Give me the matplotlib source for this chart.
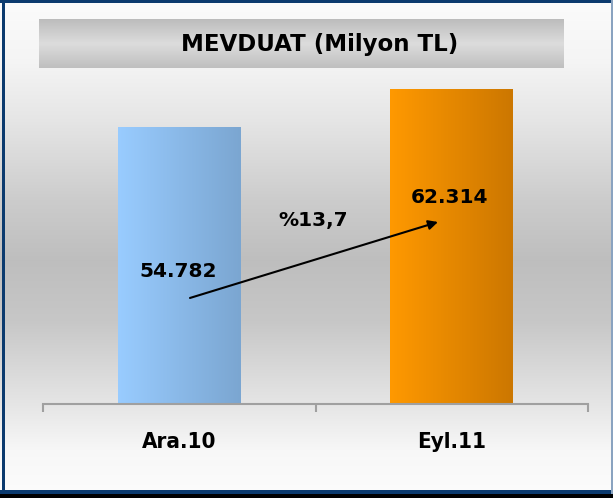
import numpy as np
import matplotlib
matplotlib.use("Agg")
import matplotlib.pyplot as plt
from matplotlib.patches import Rectangle
from matplotlib.colors import LinearSegmentedColormap

# ---- data ----
categories = ["Ara.10", "Eyl.11"]
values = [54782, 62314]
value_labels = ["54.782", "62.314"]
change_label = "%13,7"
title = "MEVDUAT (Milyon TL)"

W, H = 613, 498
fig = plt.figure(figsize=(W / 100, H / 100), dpi=100)

# ---- background axes in pixel coordinates ----
bg = fig.add_axes([0, 0, 1, 1])
bg.set_xlim(0, W)
bg.set_ylim(H, 0)
bg.axis("off")

ys = np.arange(H)
stops_y = [0, 60, 120, 200, 260, 320, 404, 450, 498]
stops_v = [0.985, 0.96, 0.90, 0.80, 0.745, 0.78, 0.90, 0.97, 0.99]
col = np.interp(ys, stops_y, stops_v)
grad = np.repeat(col[:, None], 2, axis=1)
bg.imshow(np.dstack([grad, grad, grad]), extent=[0, W, H, 0], aspect="auto",
          interpolation="bilinear", zorder=0)

# title box gradient
ty = np.linspace(0, 1, 50)
tcol = np.interp(ty, [0, 0.5, 1], [0.74, 0.865, 0.75])
tg = np.repeat(tcol[:, None], 2, axis=1)
bg.imshow(np.dstack([tg, tg, tg]), extent=[39, 564, 68, 19], aspect="auto",
          interpolation="bilinear", zorder=1)
bg.text(320, 44, title, ha="center", va="center", fontsize=16.5,
        fontweight="bold", family="DejaVu Sans", color="black", zorder=2)

# frame
bg.add_patch(Rectangle((0, 493), W, 5, facecolor="black", edgecolor="none", zorder=3))
bg.add_patch(Rectangle((0, 0), W, 3, facecolor="#0B3A6E", edgecolor="none", zorder=3))
bg.add_patch(Rectangle((0, 490), W, 4, facecolor="#0B3A6E", edgecolor="none", zorder=3))
bg.add_patch(Rectangle((2, 0), 3, 494, facecolor="#0B3A6E", edgecolor="none", zorder=3))
bg.add_patch(Rectangle((610.5, 0), 2.5, 494, facecolor="#8AA3C0", edgecolor="none", zorder=3))

# ---- main axes ----
left, right, base, top = 43, 588, 404, 60
ax = fig.add_axes([left / W, 1 - base / H, (right - left) / W, (base - top) / H])
ax.patch.set_alpha(0)
x = np.arange(len(categories))
bars = ax.bar(x, values, width=0.45, color="none", edgecolor="none", zorder=2)

cmaps = [LinearSegmentedColormap.from_list("b", ["#99CCFF", "#7BA6D1"]),
         LinearSegmentedColormap.from_list("o", ["#FF9900", "#CC7700"])]
for b, cm in zip(bars, cmaps):
    x0, w, h = b.get_x(), b.get_width(), b.get_height()
    g = np.linspace(0, 1, 256)[None, :]
    im = ax.imshow(g, cmap=cm, extent=[x0, x0 + w, 0, h], aspect="auto",
                   interpolation="bilinear", zorder=2)
    im.set_clip_path(b)

ax.set_xlim(-0.5, 1.5)
ax.set_ylim(0, 68000)
for s in ["left", "right", "top"]:
    ax.spines[s].set_visible(False)
ax.spines["bottom"].set_color("#A0A0A0")
ax.spines["bottom"].set_linewidth(1.5)
ax.set_yticks([])
ax.set_xticks(x)
ax.set_xticklabels(categories, fontsize=16, fontweight="bold",
                   family="DejaVu Sans", fontstretch="condensed")
ax.tick_params(axis="x", which="major", length=0, pad=20)
ax.set_xticks([-0.5, 0.5, 1.5], minor=True)
ax.tick_params(axis="x", which="minor", length=6, width=1.5, color="#A0A0A0",
               direction="out")

num_font = dict(fontsize=14.5, fontweight="bold", family="DejaVu Sans", color="black")
ax.text(-0.0055, 26100, value_labels[0], ha="center", va="center", zorder=4, **num_font)
ax.text(0.991, 40900, value_labels[1], ha="center", va="center", zorder=4, **num_font)
ax.text(0.4927, 36300, change_label, ha="center", va="center", zorder=4, **num_font)
ax.annotate("", xy=(0.9495, 35980), xytext=(0.0394, 20960),
            arrowprops=dict(arrowstyle="-|>", color="black", lw=1.5,
                            mutation_scale=14, shrinkA=0, shrinkB=0), zorder=5)

fig.savefig("out.png", dpi=100)
